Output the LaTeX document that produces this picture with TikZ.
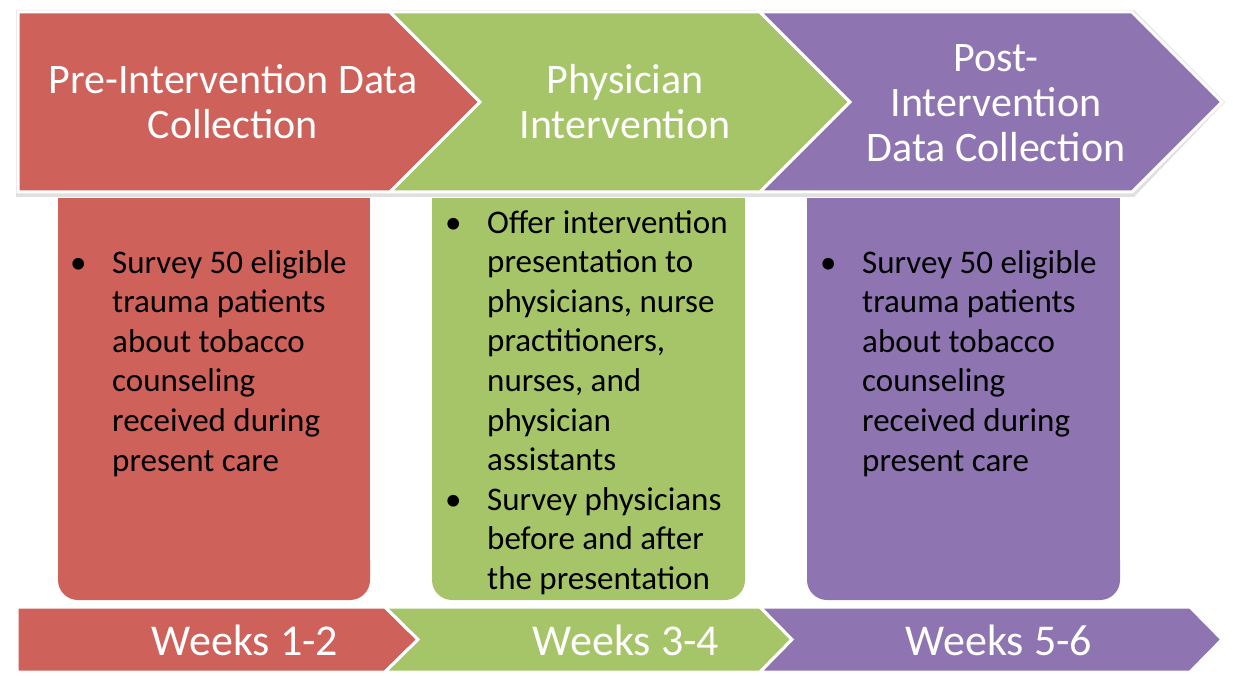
\documentclass[tikz,border=0pt]{standalone}
\usepackage{fontspec}
\setmainfont{Carlito}

\definecolor{prered}{RGB}{207,97,91}
\definecolor{phygreen}{RGB}{166,196,104}
\definecolor{postpurple}{RGB}{142,117,178}

\newcommand{\itembul}{\makebox[42pt][l]{\textbullet}}
\newcommand{\itemgap}{\hspace*{42pt}}

\tikzset{
	chevron/.style={draw=white, line width=3pt, line join=miter},
	headtext/.style={text=white, align=center, inner sep=0pt, font=\fontsize{42}{45}\selectfont},
	weektext/.style={text=white, inner sep=0pt, font=\fontsize{44}{48}\selectfont},
	bodytext/.style={text=black, align=left, inner sep=0pt, anchor=north west, font=\fontsize{33}{39.6}\selectfont}
}

\begin{document}
\begin{tikzpicture}[x=1pt,y=-1pt]
			\useasboundingbox (0,0) rectangle (1233,676);

			% content boxes
			\fill[prered] (58,198) rectangle (370,570);
			\fill[prered, rounded corners=20pt] (58,540) rectangle (370,600);
			\fill[phygreen] (432,198) rectangle (745,570);
			\fill[phygreen, rounded corners=20pt] (432,540) rectangle (745,600);
			\fill[postpurple] (807,198) rectangle (1120,570);
			\fill[postpurple, rounded corners=20pt] (807,540) rectangle (1120,600);

			% top chevrons
			\fill[black!12] (16,10) -- (1134,10) -- (1225,102) -- (1134,197) -- (16,197) -- cycle;
			\filldraw[chevron, fill=prered] (18,12) -- (390,12) -- (480,102) --
				  (390,192) -- (18,192) -- cycle;
			\filldraw[chevron, fill=phygreen] (390,12) -- (760,12) -- (850,102) --
				  (760,192) -- (390,192) -- (480,102) -- cycle;
			\filldraw[chevron, fill=postpurple] (760,12) -- (1132,12) -- (1222,102) --
				  (1132,192) -- (760,192) -- (850,102) -- cycle;

			% bottom chevrons
			\filldraw[chevron, fill=prered] (17,607) -- (385,607) -- (418,639.5) --
				  (385,672) -- (17,672) -- cycle;
			\filldraw[chevron, fill=phygreen] (385,607) -- (760,607) -- (792,639.5) --
				  (760,672) -- (385,672) -- (418,639.5) -- cycle;
			\filldraw[chevron, fill=postpurple] (760,607) -- (1190,607) -- (1222,639.5) --
				  (1190,672) -- (760,672) -- (792,639.5) -- cycle;

			% headings
			\node[headtext] (prehead) at (233,102) {Pre-Intervention Data\\Collection};
			\node[headtext] (phyhead) at (625,102) {Physician\\Intervention};
			\node[headtext] (posthead) at (996,103) {Post-\\Intervention\\Data Collection};

			% bullet texts
			\node[bodytext] (pretext) at (70,250) {\itembul Survey 50 eligible\\
				\itemgap trauma patients\\ \itemgap about tobacco\\ \itemgap counseling\\
				\itemgap received during\\ \itemgap present care};
			\node[bodytext] (phytext) at (445,210) {\itembul Offer intervention\\
				\itemgap presentation to\\ \itemgap physicians, nurse\\ \itemgap practitioners,\\
				\itemgap nurses, and\\ \itemgap physician\\ \itemgap assistants\\
				\itembul Survey physicians\\ \itemgap before and after\\ \itemgap the presentation};
			\node[bodytext] (posttext) at (820,250) {\itembul Survey 50 eligible\\
				\itemgap trauma patients\\ \itemgap about tobacco\\ \itemgap counseling\\
				\itemgap received during\\ \itemgap present care};

			% weeks
			\node[weektext] (week12) at (245,640) {Weeks 1-2};
			\node[weektext] (week34) at (626,640) {Weeks 3-4};
			\node[weektext] (week56) at (999,640) {Weeks 5-6};
		\end{tikzpicture}
\end{document}
